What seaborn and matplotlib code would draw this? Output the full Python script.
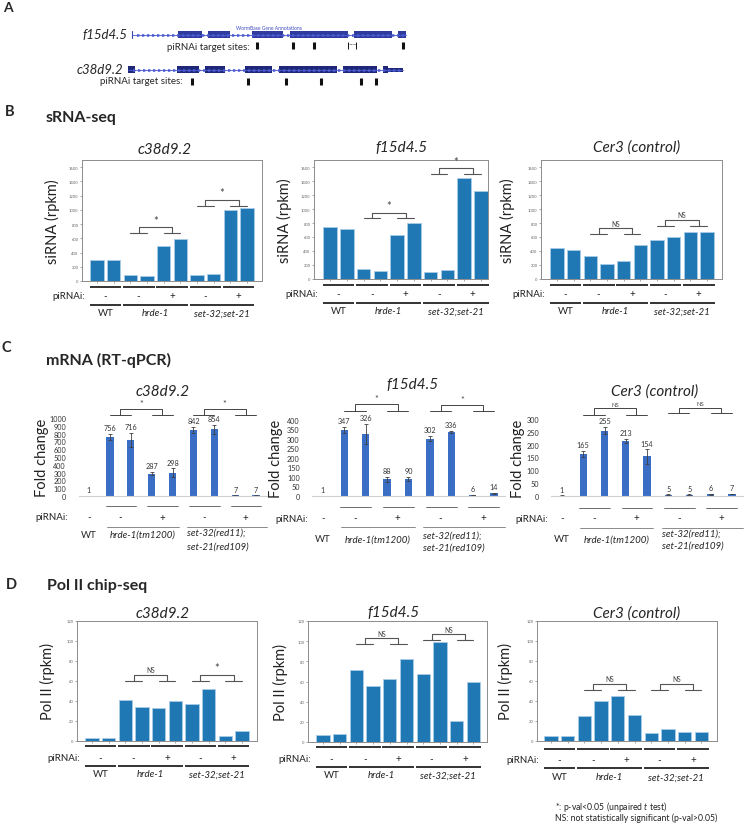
import numpy as np
import matplotlib
matplotlib.use('Agg')
import matplotlib.pyplot as plt
import matplotlib.transforms as mtrans
import seaborn as sns

W, H = 750, 828

sns.set_theme(style='white')
plt.rcParams['font.family'] = ['Lato', 'DejaVu Sans']
plt.rcParams['mathtext.fontset'] = 'custom'
plt.rcParams['mathtext.it'] = 'Lato:italic'
plt.rcParams['mathtext.rm'] = 'Lato'

# ---------------- data ----------------
# A: gene models (track units, relative to gene start)
f15_start, c38_start = 132, 128
f15_end, c38_end = 274, 275
f15_exons = [(46, 70), (76, 98), (120, 151), (158, 216), (222, 260), (266, 274)]
f15_sites = [125, 161, 182, 271]
f15_site_span = (216, 224)
c38_exons = [(0, 7), (49, 71), (77, 97), (117, 144), (151, 209), (215, 249), (255, 260)]
c38_utr = (260, 275)
c38_sites = [64, 120, 158, 193, 233, 248]

# B/D lanes
lanes = ['WT 1', 'WT 2', 'hrde-1 - 1', 'hrde-1 - 2', 'hrde-1 + 1', 'hrde-1 + 2',
         'set - 1', 'set - 2', 'set + 1', 'set + 2']
pairs = [(0, 1), (2, 3), (4, 5), (6, 7), (8, 9)]
pirnai = ['-', '-', '+', '-', '+']
genotypes = ['WT', 'hrde-1', 'set-32;set-21']
geno_spans = [(0, 1), (2, 5), (6, 9)]

srna_c38 = [300, 300, 85, 65, 490, 590, 80, 100, 1000, 1020]
srna_f15 = [748, 715, 150, 113, 626, 800, 99, 132, 1445, 1256]
srna_cer3 = [442, 419, 334, 212, 264, 480, 560, 598, 678, 668]

pol2_c38 = [3.3, 2.7, 40.7, 34.3, 33.3, 40, 37, 52.3, 5, 10]
pol2_f15 = [6.6, 7.6, 71.3, 56, 62, 82, 67.3, 99, 21, 59.7]
pol2_cer3 = [4.7, 5.3, 24.7, 39.7, 45.3, 26.3, 8, 12.3, 9, 9]

# C lanes
qlanes = ['WT', 'hrde-1 - 1', 'hrde-1 - 2', 'hrde-1 + 1', 'hrde-1 + 2',
          'set - 1', 'set - 2', 'set + 1', 'set + 2']
qpairs = [(1, 2), (3, 4), (5, 6), (7, 8)]
qpirnai = ['-', '+', '-', '+']
qspans = [(0.85, 4.3), (4.7, 8.5)]

qpcr_c38 = [1, 756, 716, 287, 298, 842, 854, 7, 7]
qerr_c38 = [1, 43, 93, 20, 55, 40, 53, 1, 1]
qpcr_f15 = [1, 347, 326, 88, 90, 302, 336, 6, 14]
qerr_f15 = [1, 16, 52, 13, 10, 15, 7, 1, 2]
qpcr_cer3 = [1, 165, 255, 213, 154, 5, 5, 6, 7]
qerr_cer3 = [1, 12, 13, 8, 28, 1, 1, 1, 1]

fig = plt.figure(figsize=(7.5, 8.28), dpi=100)


def px_axes(x0, y0, x1, y1):
    return fig.add_axes([x0 / W, 1 - y1 / H, (x1 - x0) / W, (y1 - y0) / H])


def ftext(x, y, s, **kw):
    return fig.text(x / W, 1 - y / H, s, **kw)


def below(ax, d):
    # x in data units, y = d pixels under the bottom of the axes
    return mtrans.offset_copy(ax.get_xaxis_transform(), fig=fig, x=0, y=-d, units='dots')


def bracket(ax, a, b, cap, top, label, color='#555555', lw=0.8, fs=6):
    for i, j in (a, b):
        ax.plot([i, j], [cap, cap], color=color, lw=lw, clip_on=False)
    ma, mb = (a[0] + a[1]) / 2, (b[0] + b[1]) / 2
    ax.plot([ma, ma, mb, mb], [cap, top, top, cap], color=color, lw=lw, clip_on=False)
    ax.annotate(label, ((ma + mb) / 2, top), xytext=(0, 1), textcoords='offset points',
                ha='center', va='bottom', fontsize=fs, color='#444444', annotation_clip=False)


def seq_panel(ax, vals, xlim, ymax, ystep, ylabel, label_px, ax_left, ax_w, brackets, rows):
    x = np.arange(len(vals))
    sns.barplot(x=lanes, y=vals, ax=ax, color='#1f77b4', edgecolor='#a9cce8',
                linewidth=0.6, width=0.8, saturation=1)
    ax.set_xlim(*xlim)
    ax.set_ylim(0, ymax)
    ax.set_yticks(np.arange(0, ymax + 1, ystep))
    ax.set_xticks(x)
    ax.set_xticklabels([])
    ax.set_xlabel('')
    ax.tick_params(bottom=True, left=True, length=1.5, width=0.4, labelsize=3,
                   pad=1, colors='#666666')
    for s in ax.spines.values():
        s.set_color('#8c8c8c')
        s.set_linewidth(0.7)
    ax.set_ylabel(ylabel, fontsize=10.5, color='#222222')
    ax.yaxis.set_label_coords((label_px - ax_left) / ax_w, 0.5)
    for a, b, cap, top, lab in brackets:
        bracket(ax, a, b, cap, top, lab, fs=8 if lab == '*' else 4.8)
    d1, d2, d3, d4 = rows
    for (i, j), sgn in zip(pairs, pirnai):
        ax.plot([i - 0.45, j + 0.45], [0, 0], transform=below(ax, d1), color='#333333',
                lw=1.4, clip_on=False, solid_capstyle='butt')
        ax.text((i + j) / 2, 0, sgn, transform=below(ax, d2), ha='center', va='center',
                fontsize=7, color='#222222')
    ax.text(-0.7, 0, 'piRNAi:', transform=below(ax, d2), ha='right', va='center',
            fontsize=7, color='#222222')
    for (i, j), g in zip(geno_spans, genotypes):
        ax.plot([i - 0.45, j + 0.45], [0, 0], transform=below(ax, d3), color='#333333',
                lw=1.4, clip_on=False, solid_capstyle='butt')
        ax.text((i + j) / 2, 0, g, transform=below(ax, d4), ha='center', va='center',
                fontsize=7, color='#222222', style='normal' if g == 'WT' else 'italic')


def qpcr_panel(ax, vals, errs, ymax, ystep, label_px, ax_left, ax_w, brackets, rows, pir_x):
    x = np.arange(len(vals))
    palette = ['#a4c2ea'] + ['#3a6ec4'] * (len(vals) - 1)
    sns.barplot(x=qlanes, y=vals, hue=qlanes, palette=palette, legend=False, ax=ax,
                width=0.35, saturation=1, linewidth=0)
    ax.errorbar(x, vals, yerr=errs, fmt='none', ecolor='#404040', elinewidth=0.6,
                capsize=1.6, capthick=0.6)
    for xi, v, e in zip(x, vals, errs):
        ax.annotate(str(v), (xi, v + e), xytext=(0, 2), textcoords='offset points',
                    ha='center', va='bottom', fontsize=5.2, color='#333333',
                    annotation_clip=False)
    ax.set_xlim(-0.5, len(vals) - 0.5)
    ax.set_ylim(0, ymax)
    ax.set_yticks(np.arange(0, ymax + 1, ystep))
    ax.set_xticks([])
    ax.set_xlabel('')
    ax.tick_params(left=False, bottom=False, labelsize=5.2, pad=3, colors='#333333')
    for k in ('top', 'right', 'left'):
        ax.spines[k].set_visible(False)
    ax.spines['bottom'].set_color('#d0d0d0')
    ax.spines['bottom'].set_linewidth(0.8)
    ax.set_ylabel('Fold change', fontsize=10.5, color='#222222')
    ax.yaxis.set_label_coords((label_px - ax_left) / ax_w, 0.5)
    for a, b, cap, top, lab in brackets:
        bracket(ax, a, b, cap, top, lab, color='#444444', lw=0.7, fs=6.5 if lab == '*' else 4.2)
    d1, d2, d3, d4, d5, d6 = rows
    ax.text(0, 0, '-', transform=below(ax, d2), ha='center', va='center', fontsize=7)
    for (i, j), sgn in zip(qpairs, qpirnai):
        ax.plot([i - 0.2, j + 0.25], [0, 0], transform=below(ax, d1), color='#555555',
                lw=0.6, clip_on=False)
        ax.text((i + j) / 2, 0, sgn, transform=below(ax, d2), ha='center', va='center',
                fontsize=7, color='#222222')
    ax.text(pir_x, 0, 'piRNAi:', transform=below(ax, d2), ha='right', va='center',
            fontsize=7, color='#222222')
    for a, b in qspans:
        ax.plot([a, b], [0, 0], transform=below(ax, d3), color='#777777', lw=0.6,
                clip_on=False)
    ax.text(0, 0, 'WT', transform=below(ax, d4), ha='center', va='center', fontsize=7)
    ax.text(sum(qspans[0]) / 2, 0, 'hrde-1(tm1200)', transform=below(ax, d4),
            ha='center', va='center', fontsize=7, style='italic')
    ax.text(qspans[1][0], 0, 'set-32(red11);', transform=below(ax, d5),
            ha='left', va='center', fontsize=7, style='italic')
    ax.text(qspans[1][0], 0, 'set-21(red109)', transform=below(ax, d6),
            ha='left', va='center', fontsize=7, style='italic')


# ---------------- panel A ----------------
axA = px_axes(0, 0, W, 100)
axA.set_xlim(0, W)
axA.set_ylim(100, 0)
axA.axis('off')


def gene_row(y, start, end, exons, color, first_tick):
    axA.plot([start, start + end], [y, y], color='#4a5ad0', lw=0.6)
    xs = np.arange(start + 6, start + end, 5)
    axA.plot(xs, np.full(len(xs), y), ls='none', marker='>', ms=1.3, color='#4a5ad0')
    if first_tick:
        axA.plot([start, start], [y - 3.5, y + 3.5], color='#3a48b8', lw=0.8)
    for a, b in exons:
        axA.add_patch(plt.Rectangle((start + a, y - 3.6), b - a, 7.2, color=color, lw=0))


gene_row(35.5, f15_start, f15_end, f15_exons, '#2f3c9e', True)
gene_row(70.5, c38_start, c38_end, c38_exons, '#1f2878', False)
axA.add_patch(plt.Rectangle((c38_start + c38_utr[0], 68.5), c38_utr[1] - c38_utr[0], 4,
                            color='#1f2878', lw=0))
axA.vlines([f15_start + s for s in f15_sites], 43, 50, color='#111111', lw=2.2)
axA.vlines([c38_start + s for s in c38_sites], 78.5, 86, color='#111111', lw=2.2)
axA.vlines([f15_start + s for s in f15_site_span], 43, 50, color='#111111', lw=0.7)
axA.plot([f15_start + f15_site_span[0], f15_start + f15_site_span[1]], [44.5, 44.5],
         color='#111111', lw=0.5, ls=(0, (1, 1)))
axA.text(269, 29, 'WormBase Gene Annotations', ha='center', va='center', fontsize=3.6,
         color='#3b4cc0')
axA.text(127, 35.5, 'f15d4.5', ha='right', va='center', fontsize=9.5, style='italic')
axA.text(123, 70.5, 'c38d9.2', ha='right', va='center', fontsize=9.5, style='italic')
axA.text(250, 47, 'piRNAi target sites:', ha='right', va='center', fontsize=7)
axA.text(183, 82, 'piRNAi target sites:', ha='right', va='center', fontsize=7)

# ---------------- panel letters / headers ----------------
ftext(3, 8, 'A', fontsize=10, fontweight='bold', va='center')
ftext(5, 112, 'B', fontsize=10.5, fontweight='bold', va='center')
ftext(2, 348, 'C', fontsize=10.5, fontweight='bold', va='center')
ftext(6, 585, 'D', fontsize=10.5, fontweight='bold', va='center')
ftext(46, 118, 'sRNA-seq', fontsize=11.5, fontweight='bold', va='center')
ftext(46, 360, 'mRNA (RT-qPCR)', fontsize=11.5, fontweight='bold', va='center')
ftext(47, 586, 'Pol II chip-seq', fontsize=11.5, fontweight='bold', va='center')

# ---------------- panel B ----------------
b_rows = (6, 15, 24, 32)
axB1 = px_axes(82, 161, 262, 282)
seq_panel(axB1, srna_c38, (-0.9, 9.9), 1700, 200, 'siRNA (rpkm)', 60, 82, 180,
          [((2, 3), (4, 5), 677, 757, '*'), ((6, 7), (8, 9), 1060, 1145, '*')], b_rows)
axB2 = px_axes(314, 161, 488, 280)
seq_panel(axB2, srna_f15, (-0.96, 9.42), 1700, 200, 'siRNA (rpkm)', 292, 314, 174,
          [((2, 3), (4, 5), 870, 950, '*'), ((6, 7), (8, 9), 1506, 1586, '*')], b_rows)
axB3 = px_axes(541, 161, 722, 280)
seq_panel(axB3, srna_cer3, (-0.96, 9.9), 1700, 200, 'siRNA (rpkm)', 515, 541, 181,
          [((2, 3), (4, 5), 645, 730, 'NS'), ((6, 7), (8, 9), 762, 847, 'NS')], b_rows)
ftext(165, 150, 'c38d9.2', fontsize=11, style='italic', ha='center', va='center')
ftext(401, 148, 'f15d4.5', fontsize=11, style='italic', ha='center', va='center')
ftext(637, 148, 'Cer3 (control)', fontsize=11, style='italic', ha='center', va='center')

# ---------------- panel C ----------------
axC1 = px_axes(78.5, 419, 266.6, 497)
qpcr_panel(axC1, qpcr_c38, qerr_c38, 1000, 100, 49, 78.5, 188.1,
           [((1, 2), (3, 4), 1040, 1115, '*'), ((5, 6), (7, 8), 1040, 1115, '*')],
           (10, 21, 31, 38, 36, 50), -1.0)
axC2 = px_axes(312.3, 421, 504.7, 497)
qpcr_panel(axC2, qpcr_f15, qerr_f15, 400, 50, 283, 312.3, 192.4,
           [((1, 2), (3, 4), 450, 482, '*'), ((5, 6), (7, 8), 447, 478, '*')],
           (11, 22, 31, 43, 39, 51), -0.7)
axC3 = px_axes(551.4, 420, 742.6, 497)
qpcr_panel(axC3, qpcr_cer3, qerr_cer3, 300, 50, 525, 551.4, 191.2,
           [((1, 2), (3, 4), 317, 343, 'NS'), ((5, 6), (7, 8), 323, 344, 'NS')],
           (12, 22, 32, 43, 37, 49), -0.66)
ftext(163, 392, 'c38d9.2', fontsize=11, style='italic', ha='center', va='center')
ftext(412, 385, 'f15d4.5', fontsize=11, style='italic', ha='center', va='center')
ftext(655, 392, 'Cer3 (control)', fontsize=11, style='italic', ha='center', va='center')

# ---------------- panel D ----------------
axD1 = px_axes(77, 622, 257, 742)
seq_panel(axD1, pol2_c38, (-0.9, 9.9), 120, 20, 'Pol II (rpkm)', 55, 77, 180,
          [((2, 3), (4, 5), 60, 66.3, 'NS'), ((6, 7), (8, 9), 60, 66.3, '*')], (5, 17, 25, 33))
axD2 = px_axes(308, 622, 487, 743)
seq_panel(axD2, pol2_f15, (-0.9, 9.82), 120, 20, 'Pol II (rpkm)', 288, 308, 179,
          [((2, 3), (4, 5), 97, 103, 'NS'), ((6, 7), (8, 9), 101.5, 107, 'NS')], (5, 17, 25, 33))
axD3 = px_axes(537, 622, 717, 742)
seq_panel(axD3, pol2_cer3, (-0.84, 9.94), 120, 20, 'Pol II (rpkm)', 513, 537, 180,
          [((2, 3), (4, 5), 50.7, 57.3, 'NS'), ((6, 7), (8, 9), 50.7, 57.3, 'NS')], (8, 19, 27, 36))
ftext(163, 614, 'c38d9.2', fontsize=11, style='italic', ha='center', va='center')
ftext(393, 613, 'f15d4.5', fontsize=11, style='italic', ha='center', va='center')
ftext(637, 614, 'Cer3 (control)', fontsize=11, style='italic', ha='center', va='center')

ftext(555, 807, '*: p-val<0.05 (unpaired $t$ test)', fontsize=6.2, va='center', color='#222222')
ftext(555, 818, 'NS: not statistically significant (p-val>0.05)', fontsize=6.2, va='center',
      color='#222222')

fig.savefig('out.png', dpi=100)
